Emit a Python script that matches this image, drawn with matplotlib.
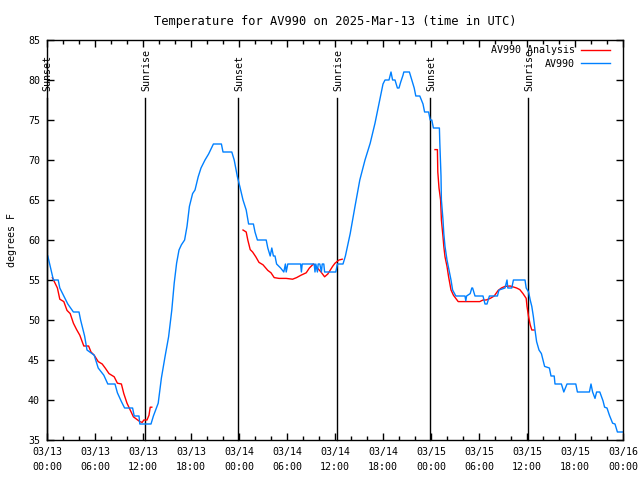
import numpy as np
import matplotlib
matplotlib.use("Agg")
import matplotlib.pyplot as plt
from matplotlib.ticker import MultipleLocator

plt.rcParams['font.family'] = 'DejaVu Sans Mono'
plt.rcParams['font.size'] = 7.2

# hours since 03/13 00:00 UTC, degrees F
obs_t = [0.1, 0.8, 1.4, 1.6, 2.1, 2.6, 3.3, 4.0, 4.2, 4.7, 5.0, 5.9, 6.4, 7.1, 7.6, 8.5,
         8.8, 9.3, 9.7, 10.7, 10.9, 11.5, 11.6, 13.0, 13.3, 13.9, 14.3, 14.75, 15.2, 15.6,
         15.9, 16.2, 16.5, 16.8, 17.2, 17.5, 17.8, 18.2, 18.5, 18.9, 19.25, 19.75, 20.2,
         20.6, 20.8, 21.8, 22.0, 23.1, 23.4, 23.8, 24.1, 24.5, 24.9, 25.2, 25.8, 26.0,
         26.3, 27.4, 27.6, 27.9, 28.1, 28.3, 28.5, 28.7, 29.2, 29.6, 29.8, 29.9, 30.1,
         31.7, 31.8, 31.9, 33.4, 33.5, 33.6, 33.8, 33.9, 34.1, 34.3, 34.4, 34.6, 34.7,
         36.1, 36.3, 37.0, 37.3, 37.9, 38.5, 39.1, 39.75, 40.4, 41.0, 41.6, 42.0, 42.25,
         42.75, 43.0, 43.2, 43.5, 43.8, 44.0, 44.2, 44.5, 44.6, 45.3, 45.6, 45.9, 46.1,
         46.6, 47.0, 47.2, 47.7, 47.9, 48.1, 48.3, 49.05, 49.1, 49.25, 49.3, 49.5, 49.6,
         49.75, 50.0, 50.25, 50.5, 50.7, 51.1, 52.25, 52.35, 52.45, 52.9, 53.1, 53.2,
         53.5, 54.5, 54.75, 55.0, 55.3, 56.3, 56.5, 57.25, 57.5, 57.6, 58.1, 58.3, 59.75,
         59.9, 60.2, 60.4, 60.6, 60.8, 61.0, 61.2, 61.5, 61.8, 62.2, 62.8, 63.0, 63.4,
         63.5, 64.3, 64.6, 65.0, 66.1, 66.3, 67.8, 68.0, 68.2, 68.5, 68.7, 69.1, 69.5,
         69.7, 70.0, 70.3, 70.7, 71.0, 71.3, 72.0]
obs_v = [58, 55, 55, 54, 53, 52, 51, 51, 50, 48, 46.25, 45.6, 44, 43.1, 42, 42,
         40.9, 39.8, 39, 39, 38, 38, 37, 37, 38, 39.6, 42.75, 45.4, 47.9, 51.25,
         54.6, 57.1, 58.75, 59.4, 60, 61.7, 64.2, 65.8, 66.25, 67.9, 69, 70, 70.75,
         71.6, 72, 72, 71, 71, 70, 67.9, 66.7, 65, 63.75, 62, 62, 61,
         60, 60, 59, 58, 59, 58, 58, 57, 56.5, 56, 57, 56, 57,
         57, 56, 57, 57, 56, 57, 56, 57, 57, 56, 57, 57, 56,
         56, 57, 57, 58, 60.8, 64.2, 67.5, 70, 72.1, 74.6, 77.5, 79.5, 80,
         80, 81, 80, 80, 79, 79, 79.7, 80.6, 81, 81, 80, 79, 78,
         78, 77, 76, 76, 75, 75, 74, 74, 72.2, 68, 65, 62.5, 60.8,
         59.2, 57.5, 56.25, 55, 53.75, 53, 53, 52.4, 53, 53.3, 54, 54,
         53, 53, 52, 52, 53, 53, 53.75, 54, 55, 54, 54, 55, 55,
         54, 53.5, 52.5, 51.7, 50.4, 48.75, 47.3, 46.25, 45.8, 44.2, 44, 43, 43,
         42, 42, 41, 42, 42, 41, 41, 42, 41, 40.2, 41, 41, 39.9,
         39.1, 39, 38.1, 37.1, 37, 36, 36]

ana_t = [0.67, 1.3, 1.6, 2.1, 2.5, 2.9, 3.3, 3.7, 4.1, 4.6, 5.2, 5.5, 5.9, 6.4, 6.9,
         7.3, 7.75, 8.4, 8.8, 9.3, 9.6, 10.0, 10.4, 10.8, 11.2, 11.6, 11.9, 12.1, 12.5,
         12.75, 12.9, 13.1, np.nan,
         24.5, 24.9, 25.1, 25.4, 25.7, 26.1, 26.5, 27.0, 27.6, 28.0, 28.4, 29.0, 29.9,
         30.7, 31.2, 31.75, 32.4, 32.8, 33.3, 33.8, 34.25, 34.7, 35.1, 35.7, 36.0, 36.5,
         36.9, np.nan,
         48.5, 48.8, 48.85, 49.0, 49.2, 49.3, 49.5, 49.6, 49.75, 50.0, 50.2, 50.5, 50.8,
         51.4, 52.25, 54.1, 54.5, 54.9, 55.4, 55.9, 56.4, 56.8, 57.25, 57.9, 58.7, 59.1,
         59.5, 59.9, 60.0, 60.2, 60.4, 60.6, 60.9]
ana_v = [55.3, 54.0, 52.6, 52.3, 51.2, 50.8, 49.6, 48.8, 48.1, 46.75, 46.75, 46.0, 45.6,
         44.8, 44.5, 43.96, 43.3, 42.9, 42.1, 42.0, 40.8, 39.6, 38.75, 37.9, 37.6, 37.3,
         37.2, 37.5, 37.5, 38.1, 39.1, 39.1, np.nan,
         61.25, 61.0, 60.0, 58.8, 58.5, 57.9, 57.2, 56.9, 56.2, 55.9, 55.3, 55.2, 55.2,
         55.1, 55.3, 55.6, 55.9, 56.5, 57.0, 56.5, 56.0, 55.4, 55.75, 56.7, 57.1, 57.5,
         57.6, np.nan,
         71.3, 71.3, 68.5, 66.5, 65.0, 62.5, 60.4, 59.2, 57.9, 56.7, 55.4, 53.75, 53.1,
         52.3, 52.3, 52.3, 52.5, 52.5, 52.7, 53.0, 53.7, 54.0, 54.2, 54.25, 54.0, 53.8,
         53.3, 52.7, 51.7, 50.4, 49.4, 48.75, 48.75]

sun_t = [0.0, 12.27, 23.9, 36.27, 47.9, 60.17]
sun_lbl = ["Sunset", "Sunrise", "Sunset", "Sunrise", "Sunset", "Sunrise"]

tick_t = list(range(0, 73, 6))
tick_lbl = ["03/13\n00:00", "03/13\n06:00", "03/13\n12:00", "03/13\n18:00",
            "03/14\n00:00", "03/14\n06:00", "03/14\n12:00", "03/14\n18:00",
            "03/15\n00:00", "03/15\n06:00", "03/15\n12:00", "03/15\n18:00",
            "03/16\n00:00"]

fig = plt.figure(figsize=(6.4, 4.8), dpi=100)
ax = fig.add_axes([47/640, 40/480, 576/640, 400/480])

for t, lbl in zip(sun_t, sun_lbl):
    ax.plot([t, t], [35, 77.8], color='black', lw=1.0, clip_on=False, zorder=1)
    ax.text(t + 0.1, 78.6, lbl, rotation=90, ha='center', va='bottom')

ax.plot(ana_t, ana_v, color='#ff0000', lw=1.0, label='AV990 Analysis')
ax.plot(obs_t, obs_v, color='#0080ff', lw=1.0, label='AV990')

ax.set_xlim(0, 72)
ax.set_ylim(35, 85)
ax.set_xticks(tick_t)
ax.set_xticklabels(tick_lbl, linespacing=1.6)
ax.xaxis.set_minor_locator(MultipleLocator(2))
ax.yaxis.set_major_locator(MultipleLocator(5))
ax.tick_params(which='both', direction='in', top=True, right=True, width=1.0)
ax.tick_params(which='major', length=5, pad=5)
ax.tick_params(which='minor', length=3)
for s in ax.spines.values():
    s.set_linewidth(1.0)

ax.set_title("Temperature for AV990 on 2025-Mar-13 (time in UTC)", pad=11)
ax.set_ylabel("degrees F", labelpad=8)

ax.legend(loc='upper right', bbox_to_anchor=(0.977, 0.987), frameon=False,
          markerfirst=False, handlelength=2.9, handletextpad=0.6,
          labelspacing=0.35, borderpad=0, borderaxespad=0)

fig.savefig("out.png", dpi=100)
